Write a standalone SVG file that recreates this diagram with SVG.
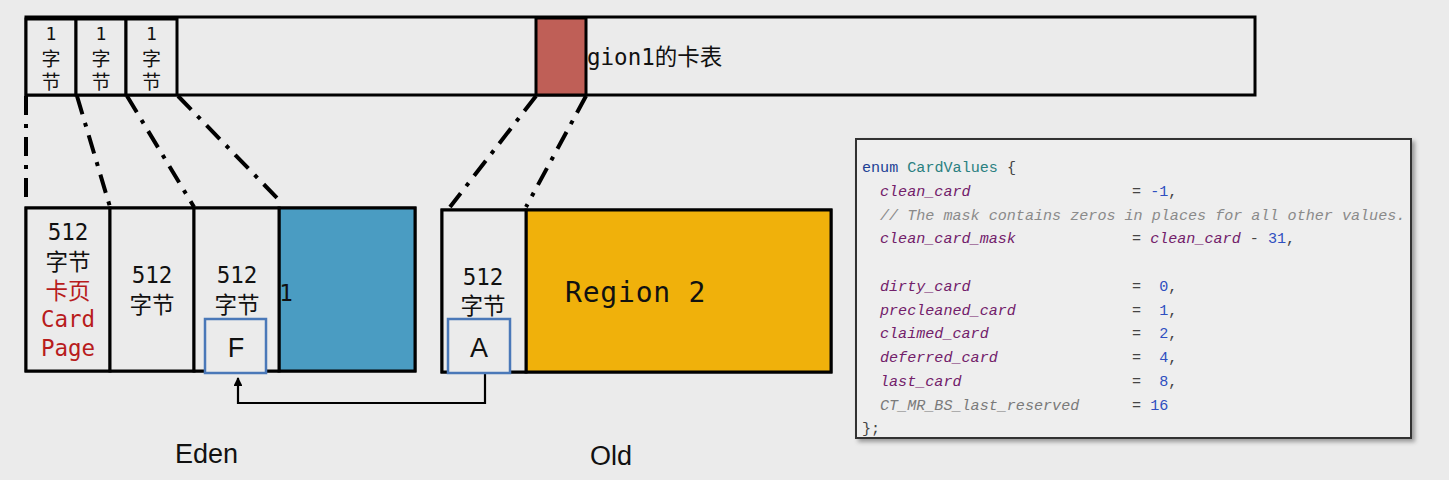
<svg xmlns="http://www.w3.org/2000/svg" width="1449" height="480" viewBox="0 0 1449 480">
<style>
.bg{fill:#ebebeb}
.box{fill:#ebebeb;stroke:#000;stroke-width:3}
.dd{stroke:#000;stroke-width:4;stroke-dasharray:19 9 4 9;fill:none}
.mono{font-family:"DejaVu Sans Mono","Noto Sans CJK SC",monospace;fill:#111;text-anchor:middle}
.sans{font-family:"Liberation Sans","Noto Sans",sans-serif;fill:#111}
.code{font-family:"Liberation Mono","DejaVu Sans Mono",monospace;font-size:15.1px;fill:#444}
.kw{fill:#1c3f95}
.ty{fill:#2a8080}
.mem{fill:#72206a;font-style:italic}
.num{fill:#2f4fc0}
.cmt{fill:#8a8a8a;font-style:italic}
.res{fill:#7a7a7a;font-style:italic}
.sel{fill:#ebebeb;stroke:#4a78b8;stroke-width:2.5}
.red{fill:#b81c1c}
</style>
<defs>
<marker id="ah" viewBox="0 0 10 10" refX="9" refY="5" markerWidth="4" markerHeight="4" orient="auto">
<path d="M0,0 L10,5 L0,10 z" fill="#000"/>
</marker>
<filter id="sh" x="-5%" y="-5%" width="110%" height="115%">
<feDropShadow dx="3" dy="3" stdDeviation="2" flood-color="#000" flood-opacity="0.35"/>
</filter>
</defs>
<rect class="bg" x="0" y="0" width="1449" height="480"/>

<g id="card-table">
<rect class="box" x="26" y="17" width="1229" height="78"/>
<text class="mono" x="587" y="65" font-size="22.5" style="text-anchor:start">gion1的卡表</text>
</g>
<g id="card-byte-1">
<rect class="box" x="26" y="19" width="50" height="76"/>
<text class="mono" x="51" y="40" font-size="18">1</text>
<text class="mono" x="51" y="66" font-size="19">字</text>
<text class="mono" x="51" y="89" font-size="19">节</text>
</g>
<g id="card-byte-2">
<rect class="box" x="76" y="19" width="50" height="76"/>
<text class="mono" x="101" y="40" font-size="18">1</text>
<text class="mono" x="101" y="66" font-size="19">字</text>
<text class="mono" x="101" y="89" font-size="19">节</text>
</g>
<g id="card-byte-3">
<rect class="box" x="126" y="19" width="51" height="76"/>
<text class="mono" x="151.5" y="40" font-size="18">1</text>
<text class="mono" x="151.5" y="66" font-size="19">字</text>
<text class="mono" x="151.5" y="89" font-size="19">节</text>
</g>
<g id="card-dirty">
<rect x="536" y="18" width="50" height="77" fill="#bf5f57" stroke="#000" stroke-width="3"/>
</g>

<g id="connectors">
<line class="dd" x1="26" y1="96" x2="26" y2="198"/>
<line class="dd" x1="77" y1="96" x2="110" y2="207"/>
<line class="dd" x1="127" y1="96" x2="194" y2="207"/>
<line class="dd" x1="178" y1="96" x2="279" y2="200"/>
<line class="dd" x1="536" y1="96" x2="450" y2="207"/>
<line class="dd" x1="586" y1="96" x2="526" y2="207"/>
<path d="M485,374 V403 H238 V378" fill="none" stroke="#000" stroke-width="2.2" marker-end="url(#ah)"/>
</g>

<g id="eden">
<rect class="box" x="26" y="208" width="389" height="163"/>
<rect x="279" y="208" width="136" height="163" fill="#4a9cc2" stroke="#000" stroke-width="3"/>
<text class="mono" x="286" y="301" font-size="22.5">1</text>
</g>
<g id="eden-card-1">
<rect class="box" x="26" y="208" width="84" height="163"/>
<text class="mono" x="68" y="240" font-size="22.5">512</text>
<text class="mono" x="68" y="270" font-size="22.5">字节</text>
<text class="mono red" x="68" y="299" font-size="22.5">卡页</text>
<text class="mono red" x="68" y="327" font-size="22.5">Card</text>
<text class="mono red" x="68" y="356" font-size="22.5">Page</text>
</g>
<g id="eden-card-2">
<rect class="box" x="110" y="208" width="84" height="163"/>
<text class="mono" x="152" y="283" font-size="22.5">512</text>
<text class="mono" x="152" y="313" font-size="22.5">字节</text>
</g>
<g id="eden-card-3">
<rect class="box" x="194" y="208" width="85" height="163"/>
<text class="mono" x="237" y="283" font-size="22.5">512</text>
<text class="mono" x="237" y="313" font-size="22.5">字节</text>
</g>
<g id="obj-F">
<rect class="sel" x="205" y="319" width="61" height="54"/>
<text class="sans" x="236" y="357" font-size="27" text-anchor="middle">F</text>
</g>

<g id="old">
<rect class="box" x="442" y="210" width="389" height="162"/>
<rect x="526" y="210" width="305" height="162" fill="#f0b10b" stroke="#000" stroke-width="3"/>
<text class="mono" x="565" y="302" font-size="28" style="text-anchor:start;letter-spacing:0.8px">Region 2</text>
</g>
<g id="old-card">
<rect class="box" x="442" y="210" width="84" height="162"/>
<text class="mono" x="483" y="285" font-size="22.5">512</text>
<text class="mono" x="483" y="314" font-size="22.5">字节</text>
</g>
<g id="obj-A">
<rect class="sel" x="448" y="319" width="62" height="54"/>
<text class="sans" x="479" y="357" font-size="27" text-anchor="middle">A</text>
</g>

<g id="labels">
<text class="sans" x="175" y="463" font-size="27">Eden</text>
<text class="sans" x="590" y="465" font-size="27">Old</text>
</g>

<g id="code">
<rect x="856" y="139" width="555" height="299" fill="#eeeeee" stroke="#333" stroke-width="2" filter="url(#sh)"/>
<text class="code" x="862" y="172"><tspan class="kw">enum</tspan> <tspan class="ty">CardValues</tspan> {</text>
<text class="code mem" x="880" y="195.7">clean_card</text>
<text class="code" x="1132" y="195.7" xml:space="preserve">= <tspan class="num">-1</tspan>,</text>
<text class="code cmt" x="880" y="219.5">// The mask contains zeros in places for all other values.</text>
<text class="code mem" x="880" y="243.2">clean_card_mask</text>
<text class="code" x="1132" y="243.2" xml:space="preserve">= <tspan class="mem">clean_card</tspan> - <tspan class="num">31</tspan>,</text>
<text class="code mem" x="880" y="290.7">dirty_card</text>
<text class="code" x="1132" y="290.7" xml:space="preserve">=  <tspan class="num">0</tspan>,</text>
<text class="code mem" x="880" y="314.5">precleaned_card</text>
<text class="code" x="1132" y="314.5" xml:space="preserve">=  <tspan class="num">1</tspan>,</text>
<text class="code mem" x="880" y="338.2">claimed_card</text>
<text class="code" x="1132" y="338.2" xml:space="preserve">=  <tspan class="num">2</tspan>,</text>
<text class="code mem" x="880" y="362">deferred_card</text>
<text class="code" x="1132" y="362" xml:space="preserve">=  <tspan class="num">4</tspan>,</text>
<text class="code mem" x="880" y="385.7">last_card</text>
<text class="code" x="1132" y="385.7" xml:space="preserve">=  <tspan class="num">8</tspan>,</text>
<text class="code res" x="880" y="409.5">CT_MR_BS_last_reserved</text>
<text class="code" x="1132" y="409.5" xml:space="preserve">= <tspan class="num">16</tspan></text>
<text class="code" x="862" y="433">};</text>
</g>
</svg>
